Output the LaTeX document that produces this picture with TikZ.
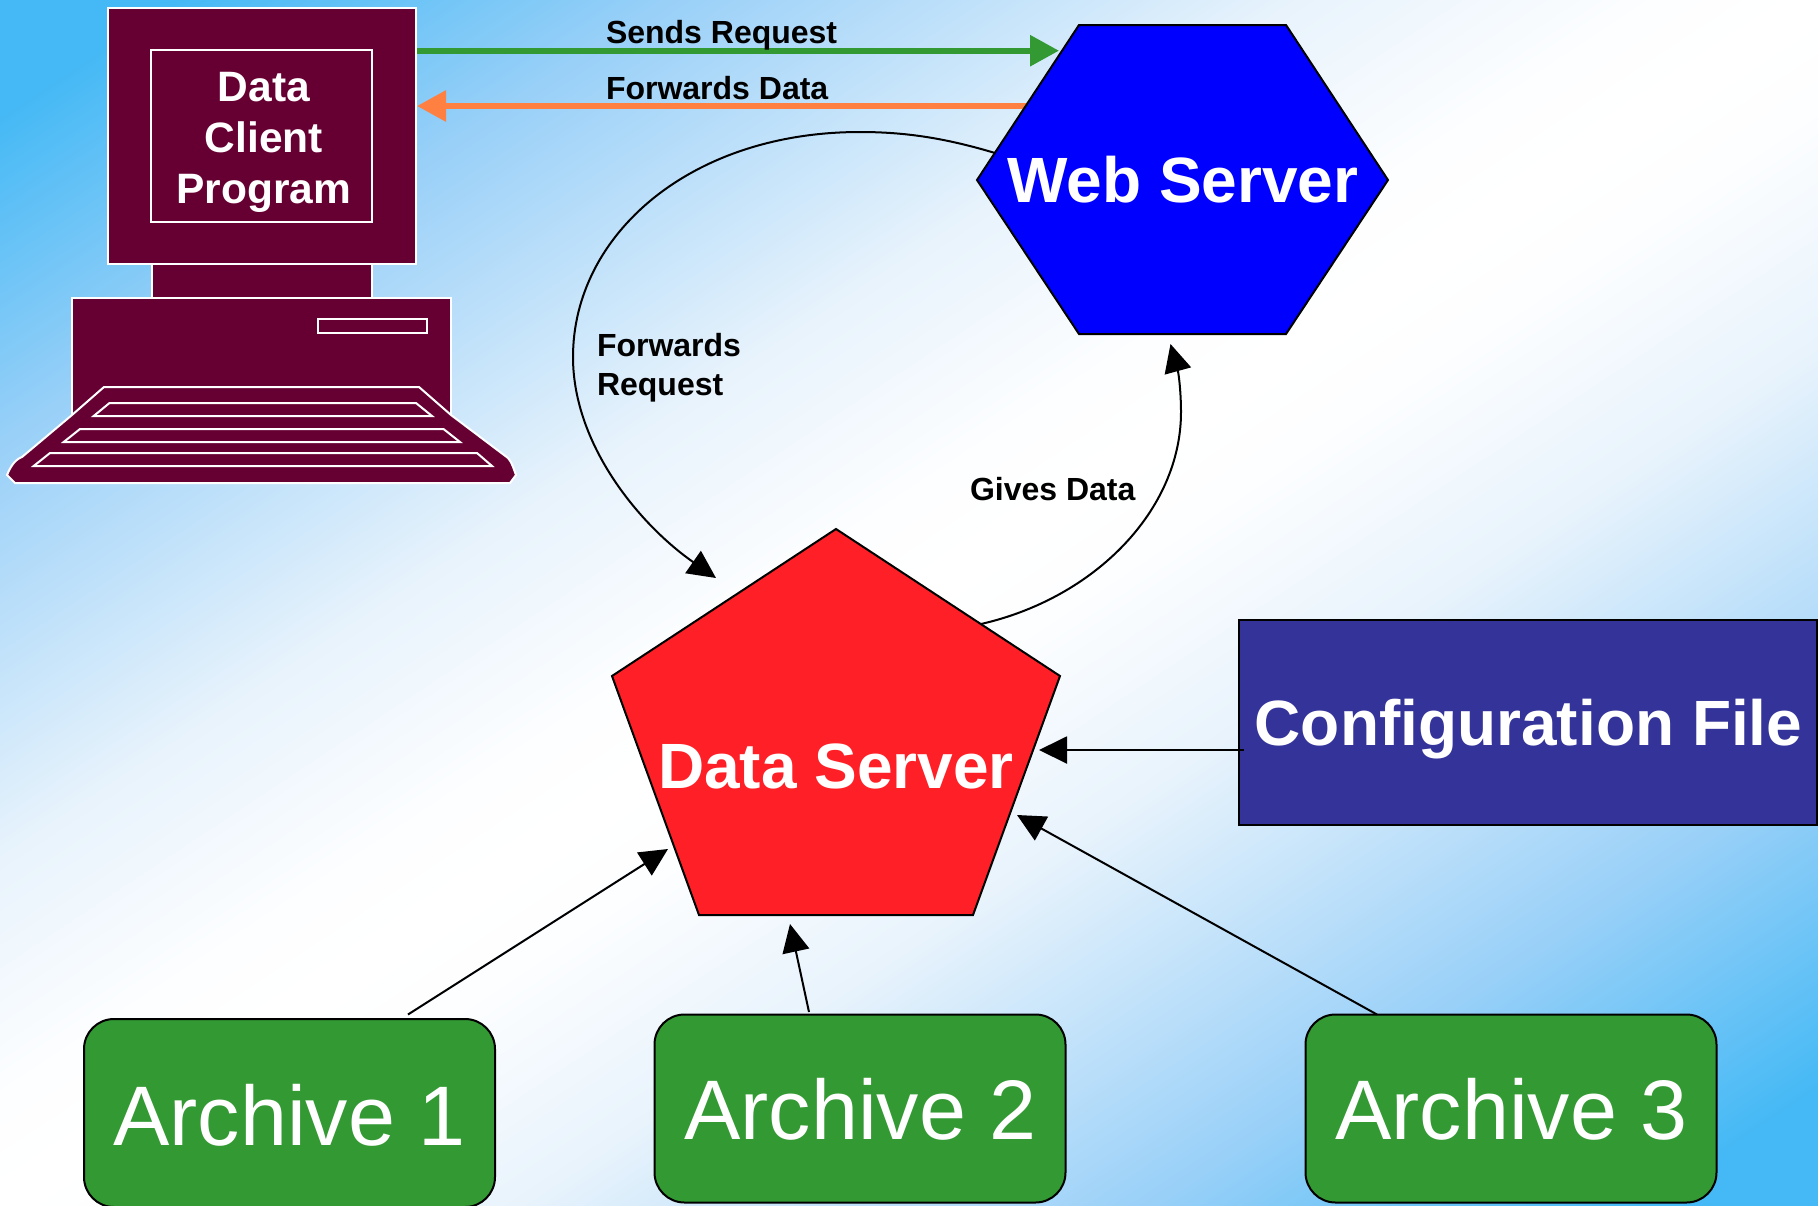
\documentclass[tikz,border=0pt]{standalone}
\usepackage{fontspec}
\setmainfont{Liberation Sans}
\usetikzlibrary{arrows.meta}
\definecolor{skyb}{HTML}{45B9F5}
\definecolor{sk1}{HTML}{99D0F8}
\definecolor{sk2}{HTML}{E8F3FC}
\definecolor{sk3}{HTML}{FDFEFF}
\definecolor{clientc}{HTML}{660033}
\definecolor{redc}{HTML}{FF2027}
\definecolor{cfgc}{HTML}{333399}
\definecolor{greenc}{HTML}{339933}
\definecolor{orangec}{HTML}{FF8040}
\pgfdeclareverticalshading{diagbg}{100bp}{color(0bp)=(skyb); color(18.5bp)=(skyb); color(28bp)=(sk1); color(40bp)=(sk2); color(47bp)=(sk3); color(50bp)=(white); color(53bp)=(sk3); color(60bp)=(sk2); color(72bp)=(sk1); color(81.5bp)=(skyb); color(100bp)=(skyb)}
\tikzset{
  x=1pt,y=-1pt,
  client/.style={fill=clientc,draw=white,line width=2pt,line join=miter},
  shapeedge/.style={draw=black,line width=2pt,line join=miter},
  lbl/.style={inner sep=0pt,outer sep=0pt,anchor=base,font=\fontsize{64}{70}\selectfont\bfseries,text=white},
  small/.style={inner sep=0pt,outer sep=0pt,anchor=base west,font=\fontsize{32}{39}\selectfont\bfseries,text=black},
  arch/.style={inner sep=0pt,outer sep=0pt,anchor=base,font=\fontsize{84.5}{90}\selectfont,text=white},
  archbox/.style={shapeedge,fill=greenc,rounded corners=30pt,minimum width=411pt,minimum height=188pt,inner sep=0pt},
  conn/.style={draw=black,line width=2pt,-{Triangle[length=28pt,width=27pt]}},
  thick arrow/.style={line width=6pt,-{Triangle[length=29pt,width=30pt]}},
}
\begin{document}
\begin{tikzpicture}
\useasboundingbox (0,0) rectangle (1818,1205);
\shade[shading=diagbg,shading angle=33.5] (0,0) rectangle (1818,1205);
\clip (0,0) rectangle (1818,1205);

% computer
\draw[client] (72,298) rectangle (451,440);
\draw[client] (152,264) rectangle (372,298);
\node[client,minimum width=308pt,minimum height=256pt,inner sep=0pt] (monitor) at (262,136) {};
\node[client,minimum width=221pt,minimum height=172pt,inner sep=0pt] (screen) at (261.5,136) {};
\node[inner sep=0pt,align=center,text=white,font=\fontsize{42.5}{51}\selectfont\bfseries] (clientlbl) at (264,142) {Data\\Client\\Program};
\draw[client,line width=2pt] (317.5,319) rectangle (427,333);
\draw[client] (104,387) -- (419,387) -- (451,415) -- (508,458) .. controls (512,462) and (514,470) .. (516,475) -- (510,483) -- (15,483) -- (7,475) .. controls (10,468) and (14,460) .. (22,457) -- (72,415) -- cycle;
\draw[client] (109.5,403) -- (416,403) -- (432,416) -- (93.7,416) -- cycle;
\draw[client] (80,429) -- (443.5,429) -- (460,442) -- (63.7,442) -- cycle;
\draw[client] (50,453) -- (477,453) -- (492,466) -- (33.7,466) -- cycle;
\coordinate (monitorG) at (417,50.7);
\coordinate (monitorO) at (417,106);

% web server
\coordinate (webO) at (1026,106);
\coordinate (webG) at (1059,50.7);
\coordinate (webC) at (995,153);
\coordinate (webB) at (1170.5,344);
\draw[orangec,thick arrow] (webO) -- (monitorO);
\draw[shapeedge,fill=blue] (977,180) -- (1079,25) -- (1286,25) -- (1388,180) -- (1286,334) -- (1079,334) -- cycle;
\node[lbl] (web) at (1183,202) {Web Server};
\draw[greenc,thick arrow] (monitorG) -- (webG);
\node[small] (sends) at (606,43) {Sends Request};
\node[small] (fwdata) at (606,99.7) {Forwards Data};

% data server
\coordinate (dataL) at (716,578);
\coordinate (dataR) at (981,624);
\coordinate (dataCfg) at (1039,750);
\coordinate (dataA3) at (1017,815);
\coordinate (dataA2) at (790,924);
\coordinate (dataA1) at (668,849);
\draw[shapeedge,fill=redc] (836,529) -- (1060,676) -- (973,915) -- (699,915) -- (612,676) -- cycle;
\node[lbl] (data) at (836,788) {Data Server};

% configuration
\node[shapeedge,fill=cfgc,minimum width=578pt,minimum height=205pt,inner sep=0pt] (cfg) at (1528,722) {};
\node[lbl] (cfglbl) at (1528.5,745) {Configuration File};
\coordinate (cfgL) at (1244,750);

% archives
\node[archbox] (a1) at (289.5,1113) {};
\node[archbox] (a2) at (860,1108.5) {};
\node[archbox] (a3) at (1511,1108.5) {};
\node[arch] at (289.5,1145) (a1l) {Archive 1};
\node[arch] at (860.5,1139) (a2l) {Archive 2};
\node[arch] at (1511.5,1139) (a3l) {Archive 3};
\coordinate (a1T) at (408,1014.5);
\coordinate (a2T) at (809,1012);
\coordinate (a3T) at (1377,1014.5);

% connectors
\draw[conn] (cfgL) -- (dataCfg);
\draw[conn] (a3T) -- (dataA3);
\draw[conn] (a2T) -- (dataA2);
\draw[conn] (a1T) -- (dataA1);
\draw[conn] (webC) .. controls (945,138) and (905,132) .. (860,132) .. controls (690,132) and (573,235) .. (573,357) .. controls (573,445) and (640,525) .. (dataL);
\draw[conn] (dataR) .. controls (1095,598) and (1181,510) .. (1181,412) .. controls (1181,394) and (1179,375) .. (webB);

\node[small,align=left,anchor=north west] (fwreq) at (597,333) {Forwards\\Request};
\node[small] (gives) at (970,500) {Gives Data};
\end{tikzpicture}
\end{document}
